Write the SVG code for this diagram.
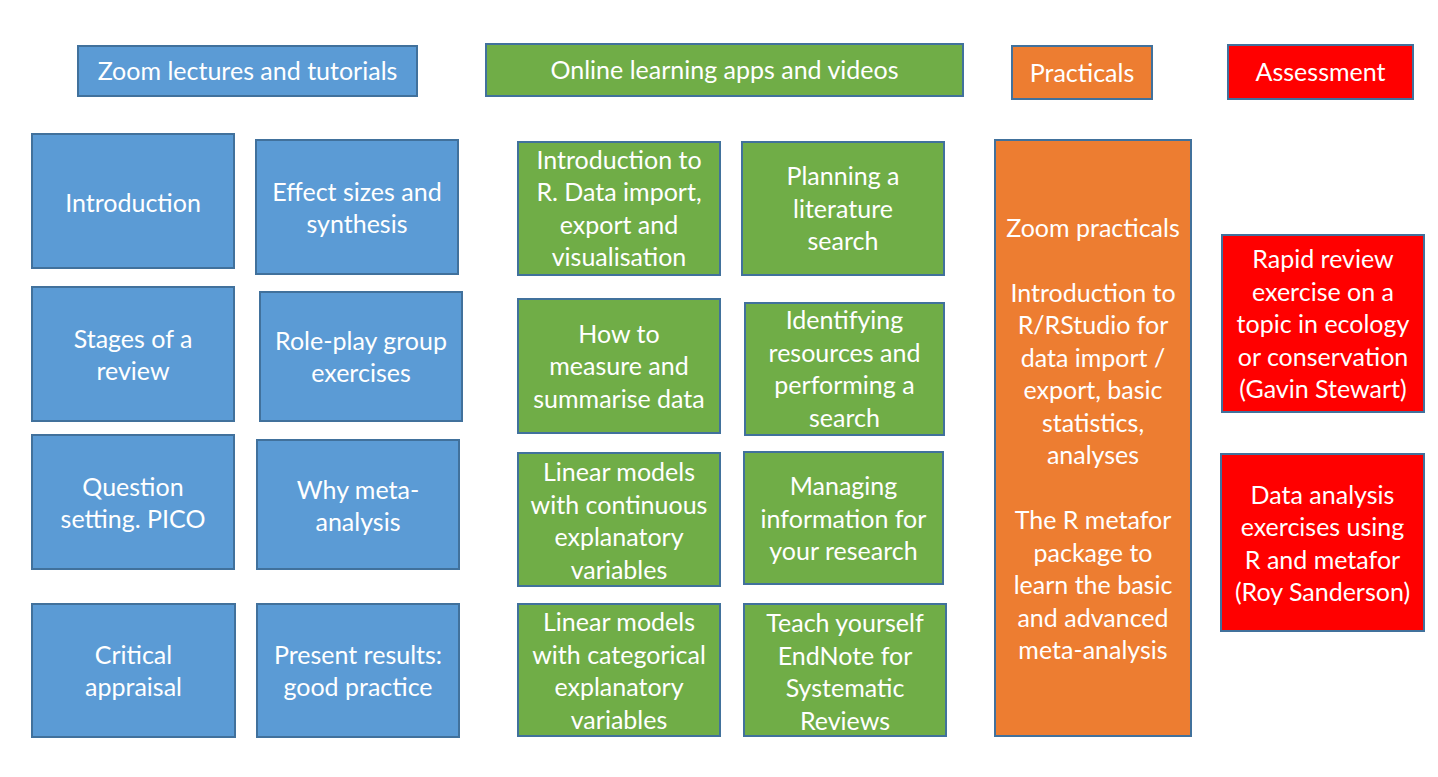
<svg xmlns="http://www.w3.org/2000/svg" width="1438" height="777" viewBox="0 0 1438 777">
  <style>
    rect { stroke: #41719C; stroke-width: 2; }
    .blue { fill: #5B9BD5; }
    .green { fill: #70AD47; }
    .orange { fill: #ED7D31; }
    .red { fill: #FF0000; }
    text { fill: #FFFFFF; font-family: Lato, "Open Sans", "Liberation Sans", sans-serif; font-size: 25px; text-anchor: middle; }
  </style>
  <rect width="1438" height="777" fill="#FFFFFF" style="stroke:none"/>

  <!-- column headers -->
  <g id="hdr-zoom">
    <rect class="blue" x="78" y="46" width="339" height="50"/>
    <text x="247.5" y="80">Zoom lectures and tutorials</text>
  </g>
  <g id="hdr-online">
    <rect class="green" x="486" y="44" width="477" height="52"/>
    <text x="724.5" y="79">Online learning apps and videos</text>
  </g>
  <g id="hdr-practicals">
    <rect class="orange" x="1012" y="46" width="140" height="53"/>
    <text x="1082" y="81.5">Practicals</text>
  </g>
  <g id="hdr-assessment">
    <rect class="red" x="1228" y="45" width="185" height="54"/>
    <text x="1320.5" y="81">Assessment</text>
  </g>

  <!-- Zoom lectures -->
  <g id="introduction">
    <rect class="blue" x="32" y="134" width="202" height="134"/>
    <text x="133" y="211.5">Introduction</text>
  </g>
  <g id="effect-sizes">
    <rect class="blue" x="256" y="140" width="202" height="134"/>
    <text x="357" y="200.5">Effect sizes and</text>
    <text x="357" y="232.5">synthesis</text>
  </g>
  <g id="stages">
    <rect class="blue" x="32" y="287" width="202" height="134"/>
    <text x="133" y="347.5">Stages of a</text>
    <text x="133" y="379.5">review</text>
  </g>
  <g id="role-play">
    <rect class="blue" x="260" y="292" width="202" height="129"/>
    <text x="361" y="350">Role-play group</text>
    <text x="361" y="382">exercises</text>
  </g>
  <g id="question">
    <rect class="blue" x="32" y="435" width="202" height="134"/>
    <text x="133" y="495.5">Question</text>
    <text x="133" y="527.5">setting. PICO</text>
  </g>
  <g id="why-meta">
    <rect class="blue" x="257" y="440" width="202" height="129"/>
    <text x="358" y="498.5">Why meta-</text>
    <text x="358" y="530.5">analysis</text>
  </g>
  <g id="critical">
    <rect class="blue" x="32" y="604" width="203" height="133"/>
    <text x="133.5" y="664">Critical</text>
    <text x="133.5" y="696">appraisal</text>
  </g>
  <g id="present">
    <rect class="blue" x="257" y="604" width="202" height="133"/>
    <text x="358" y="664">Present results:</text>
    <text x="358" y="696">good practice</text>
  </g>

  <!-- Online learning apps and videos -->
  <g id="intro-r">
    <rect class="green" x="518" y="142" width="202" height="133"/>
    <text x="619" y="168.5">Introduction to</text>
    <text x="619" y="201">R. Data import,</text>
    <text x="619" y="233.5">export and</text>
    <text x="619" y="266">visualisation</text>
  </g>
  <g id="planning">
    <rect class="green" x="742" y="142" width="202" height="133"/>
    <text x="843" y="185">Planning a</text>
    <text x="843" y="217.5">literature</text>
    <text x="843" y="250">search</text>
  </g>
  <g id="measure">
    <rect class="green" x="518" y="299" width="202" height="134"/>
    <text x="619" y="342.5">How to</text>
    <text x="619" y="375">measure and</text>
    <text x="619" y="407.5">summarise data</text>
  </g>
  <g id="identifying">
    <rect class="green" x="745" y="303" width="199" height="132"/>
    <text x="844.5" y="329">Identifying</text>
    <text x="844.5" y="361.5">resources and</text>
    <text x="844.5" y="394">performing a</text>
    <text x="844.5" y="426.5">search</text>
  </g>
  <g id="linear-continuous">
    <rect class="green" x="518" y="453" width="202" height="133"/>
    <text x="619" y="481">Linear models</text>
    <text x="619" y="513.5">with continuous</text>
    <text x="619" y="546">explanatory</text>
    <text x="619" y="578.5">variables</text>
  </g>
  <g id="managing">
    <rect class="green" x="744" y="452" width="199" height="132"/>
    <text x="843.5" y="495">Managing</text>
    <text x="843.5" y="527.5">information for</text>
    <text x="843.5" y="560">your research</text>
  </g>
  <g id="linear-categorical">
    <rect class="green" x="518" y="604" width="202" height="132"/>
    <text x="619" y="631">Linear models</text>
    <text x="619" y="663.5">with categorical</text>
    <text x="619" y="696">explanatory</text>
    <text x="619" y="728.5">variables</text>
  </g>
  <g id="endnote">
    <rect class="green" x="744" y="604" width="202" height="132"/>
    <text x="845" y="632">Teach yourself</text>
    <text x="845" y="664.5">EndNote for</text>
    <text x="845" y="697">Systematic</text>
    <text x="845" y="729.5">Reviews</text>
  </g>

  <!-- Practicals -->
  <g id="zoom-practicals">
    <rect class="orange" x="995" y="140" width="196" height="596"/>
    <text x="1093" y="236.5">Zoom practicals</text>
    <text x="1093" y="301.5">Introduction to</text>
    <text x="1093" y="334">R/RStudio for</text>
    <text x="1093" y="366.5">data import /</text>
    <text x="1093" y="399">export, basic</text>
    <text x="1093" y="431.5">statistics,</text>
    <text x="1093" y="464">analyses</text>
    <text x="1093" y="529">The R metafor</text>
    <text x="1093" y="561.5">package to</text>
    <text x="1093" y="594">learn the basic</text>
    <text x="1093" y="626.5">and advanced</text>
    <text x="1093" y="659">meta-analysis</text>
  </g>

  <!-- Assessment -->
  <g id="rapid-review">
    <rect class="red" x="1222" y="235" width="202" height="177"/>
    <text x="1323" y="268">Rapid review</text>
    <text x="1323" y="300.5">exercise on a</text>
    <text x="1323" y="333">topic in ecology</text>
    <text x="1323" y="365.5">or conservation</text>
    <text x="1323" y="398">(Gavin Stewart)</text>
  </g>
  <g id="data-analysis">
    <rect class="red" x="1221" y="454" width="203" height="177"/>
    <text x="1322.5" y="503.5">Data analysis</text>
    <text x="1322.5" y="536">exercises using</text>
    <text x="1322.5" y="568.5">R and metafor</text>
    <text x="1322.5" y="601">(Roy Sanderson)</text>
  </g>

  <!-- no connectors in this layout -->
  <g id="connectors"></g>
</svg>
